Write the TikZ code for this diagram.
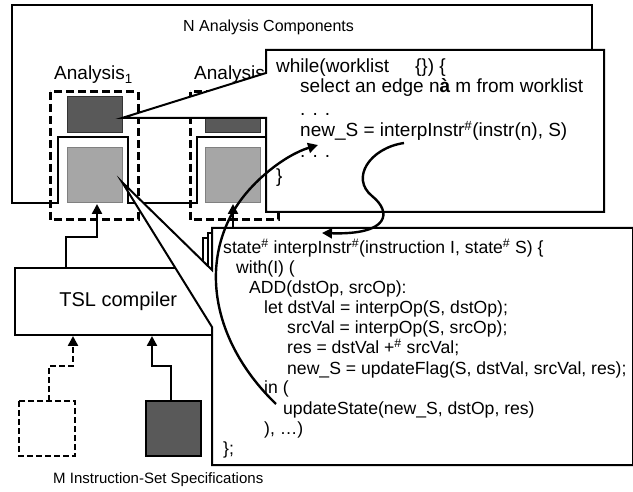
\documentclass[tikz,border=0pt]{standalone}
\usepackage{fontspec}
\setmainfont{Liberation Sans}
\usetikzlibrary{arrows.meta}

\tikzset{
  dashbox/.style={draw, line width=3pt, dash pattern=on 8pt off 4pt},
  darkbox/.style={fill=black!65, draw=black!80, line width=0.8pt},
  lightbox/.style={fill=black!35, draw=black!50, line width=0.8pt},
  callout/.style={fill=white, draw=black, line width=2pt, line join=miter},
  codeline/.style={anchor=base west, inner sep=0pt, font=\fontsize{17.6}{20}\selectfont},
  label/.style={anchor=base west, inner sep=0pt},
}

\begin{document}
\begin{tikzpicture}[x=1pt, y=-1pt, line width=2.4pt, >={Triangle[length=10pt,width=10pt]}]
   \useasboundingbox (0,0) rectangle (633,492);
   % outer frame with the two notches
   \draw[line width=2.6pt] (12,203) -- (12,5) -- (592,5) -- (592,203) -- (266,203) -- (266,137)
        -- (197,137) -- (197,203) -- (128,203) -- (128,137) -- (58,137) -- (58,203) -- cycle;
   \node[label, font=\fontsize{16}{16}\selectfont] (title) at (182,32) {N Analysis Components};

   % analysis 1
   \draw[dashbox] (50,92) rectangle (138,220);
   \draw[darkbox] (67,96) rectangle (122,132);
   \draw[lightbox] (67,147) rectangle (122,202);
   \node[label, font=\fontsize{19}{19}\selectfont] (ana1) at (53,80) {Analysis\textsubscript{1}};
   % analysis 2
   \draw[dashbox] (190,92) rectangle (278,220);
   \draw[darkbox] (205,96) rectangle (260,132);
   \draw[lightbox] (205,147) rectangle (260,202);
   \node[label, font=\fontsize{19}{19}\selectfont] (ana2) at (193,80) {Analysis};

   \coordinate (dark1) at (122,118);
   \coordinate (light1) at (122,182);

   % compiler
   \node[draw, line width=2.4pt, anchor=north west, minimum width=206pt, minimum height=67pt, inner sep=0pt,
         font=\fontsize{20}{20}\selectfont] (tsl) at (14,267) {TSL compiler};
   \coordinate (in1) at (97,204);
   \coordinate (in2) at (233,204);
   \draw[->] (tsl.north west) ++(52,0) |- (81,237) -| (in1);
   \draw[->] (tsl.north east) ++(-5,0) |- (233,237) -- (in2);

   % specifications
   \draw[line width=2.4pt, dash pattern=on 6pt off 3pt] (19,401) rectangle (75,456);
   \draw[fill=black!65, line width=2.4pt] (146,401) rectangle (201,456);
   \coordinate (spec1) at (49,401);
   \coordinate (spec2) at (171,401);
   \draw[->, dash pattern=on 6pt off 3pt] (spec1) |- (73,366) -- (73,336);
   \draw[->] (spec2) |- (152,366) -- (152,336);
   \node[label, font=\fontsize{15}{15}\selectfont] (specs) at (52,483) {M Instruction-Set Specifications};

   % worklist callout
   \draw[callout] (266,50) -- (604,50) -- (604,212) -- (266,212) -- (266,118) -- (dark1) -- (266,73) -- cycle;
   \begin{scope}[codeline/.append style={font=\fontsize{19}{21}\selectfont}]
   \node[codeline] (w1) at (275,73)  {while(worklist\hspace{26pt}\{\}) \{};
   \node[codeline] (w2) at (299,93)  {select an edge n{\bfseries à}\ m from worklist};
   \node[codeline] (w3) at (299,116) {. . .};
   \node[codeline] (w4) at (299,137) {new\_S = interpInstr\textsuperscript{\#}(instr(n), S)};
   \node[codeline] (w5) at (299,158) {. . .};
   \node[codeline] (w6) at (275,183) {\}};
   \end{scope}

   % interpInstr callout (stacked sheets)
   \draw[callout] (203,238) rectangle (640,300);
   \draw[callout] (208,233) rectangle (640,300);
   \draw[callout] (212,228) -- (633,228) -- (633,465) -- (212,465) -- (212,327) -- (light1) -- (212,270) -- cycle;
   \node[codeline] (s1)  at (222,254) {state\textsuperscript{\#} interpInstr\textsuperscript{\#}(instruction I, state\textsuperscript{\#} S) \{};
   \node[codeline] (s2)  at (235,274) {with(I) (};
   \node[codeline] (s3)  at (248,294) {ADD(dstOp, srcOp):};
   \node[codeline] (s4)  at (263,314) {let dstVal = interpOp(S, dstOp);};
   \node[codeline] (s5)  at (286,334) {srcVal = interpOp(S, srcOp);};
   \node[codeline] (s6)  at (286,354) {res = dstVal +\textsuperscript{\#} srcVal;};
   \node[codeline] (s7)  at (286,374) {new\_S = updateFlag(S, dstVal, srcVal, res);};
   \node[codeline] (s8)  at (263,394) {in (};
   \node[codeline] (s9)  at (282,414) {updateState(new\_S, dstOp, res)};
   \node[codeline] (s10) at (263,434) {), …)};
   \node[codeline] (s11) at (222,454) {\};};

   % flow between the two snippets
   \coordinate (upd) at (276,404);
   \coordinate (newS) at (318,145);
   \coordinate (call) at (404,143);
   \coordinate (def) at (322,233);
   \draw[->] (upd) .. controls (215,345) and (200,270) .. (233,212) .. controls (250,182) and (285,155) .. (newS);
   \draw[->] (call) .. controls (370,148) and (350,178) .. (372,196) .. controls (392,212) and (390,235) .. (def);
\end{tikzpicture}
\end{document}
